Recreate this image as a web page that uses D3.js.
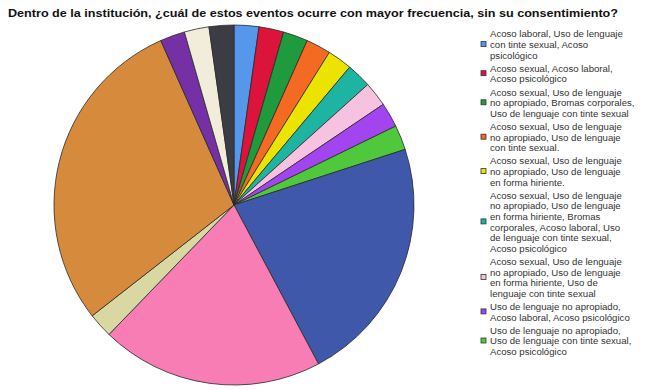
<!DOCTYPE html>
<html>
<head>
<meta charset="utf-8">
<script src="https://cdn.jsdelivr.net/npm/d3@7/dist/d3.min.js"></script>
<style>
  html, body { margin: 0; padding: 0; background: #ffffff; }
  svg { display: block; }
</style>
</head>
<body>
<svg id="chart" width="645" height="390"></svg>
<script>
// Survey answers: number of responses per combination of events
const title = "Dentro de la institución, ¿cuál de estos eventos ocurre con mayor frecuencia, sin su consentimiento?";

const values = [1, 1, 1, 1, 1, 1, 1, 1, 1, 10, 9, 1, 13, 1, 1, 1];

const sliceColors = [
  "#5597ea", "#dc143c", "#1f9a3c", "#f56a22", "#ece400", "#1db4a2",
  "#f6c2e0", "#a244f0", "#50c83c", "#4058aa", "#f87db5", "#d9d8a2",
  "#d68b3c", "#7630a6", "#f2ecda", "#3c3c44"
];

// Legend entries (first categories of the series), already wrapped into lines
const legendLabels = [
  ["Acoso laboral, Uso de lenguaje", "con tinte sexual, Acoso", "psicológico"],
  ["Acoso sexual, Acoso laboral,", "Acoso psicológico"],
  ["Acoso sexual, Uso de lenguaje", "no apropiado, Bromas corporales,", "Uso de lenguaje con tinte sexual"],
  ["Acoso sexual, Uso de lenguaje", "no apropiado, Uso de lenguaje", "con tinte sexual."],
  ["Acoso sexual, Uso de lenguaje", "no apropiado, Uso de lenguaje", "en forma hiriente."],
  ["Acoso sexual, Uso de lenguaje", "no apropiado, Uso de lenguaje", "en forma hiriente, Bromas", "corporales, Acoso laboral, Uso", "de lenguaje con tinte sexual,", "Acoso psicológico"],
  ["Acoso sexual, Uso de lenguaje", "no apropiado, Uso de lenguaje", "en forma hiriente, Uso de", "lenguaje con tinte sexual"],
  ["Uso de lenguaje no apropiado,", "Acoso laboral, Acoso psicológico"],
  ["Uso de lenguaje no apropiado,", "Uso de lenguaje con tinte sexual,", "Acoso psicológico"]
];

const svg = d3.select("#chart");

// Title
svg.append("text")
  .attr("x", 8)
  .attr("y", 17)
  .attr("textLength", 610)
  .attr("lengthAdjust", "spacingAndGlyphs")
  .style("font-family", "'Liberation Sans', Arial, sans-serif")
  .style("font-size", "10.5px")
  .style("font-weight", "bold")
  .style("fill", "#111")
  .text(title);

// Pie
const cx = 234, cy = 205, radius = 180;
const pie = d3.pie().sort(null).value(d => d);
const arc = d3.arc().innerRadius(0).outerRadius(radius);

const g = svg.append("g").attr("transform", `translate(${cx},${cy})`);
g.selectAll("path")
  .data(pie(values))
  .join("path")
  .attr("d", arc)
  .attr("fill", (d, i) => sliceColors[i])
  .attr("stroke", "#2a2a2a")
  .attr("stroke-width", 0.8)
  .attr("stroke-linejoin", "round");

// Legend
const legend = svg.append("g").attr("transform", "translate(481,0)");
const lineH = 10.6, itemGap = 2.6;
let y = 34;
legendLabels.forEach((lines, i) => {
  const mid = y + (lines.length - 1) * lineH / 2;
  legend.append("rect")
    .attr("x", 0)
    .attr("y", mid - 3)
    .attr("width", 5)
    .attr("height", 5)
    .attr("fill", sliceColors[i])
    .attr("stroke", "#333")
    .attr("stroke-width", 0.8);
  lines.forEach((ln, j) => {
    legend.append("text")
      .attr("x", 9)
      .attr("y", y + j * lineH + 3.3)
      .style("font-family", "'Liberation Sans', Arial, sans-serif")
      .style("font-size", "9.6px")
      .style("fill", "#333")
      .text(ln);
  });
  y += lines.length * lineH + itemGap;
});
</script>
</body>
</html>
